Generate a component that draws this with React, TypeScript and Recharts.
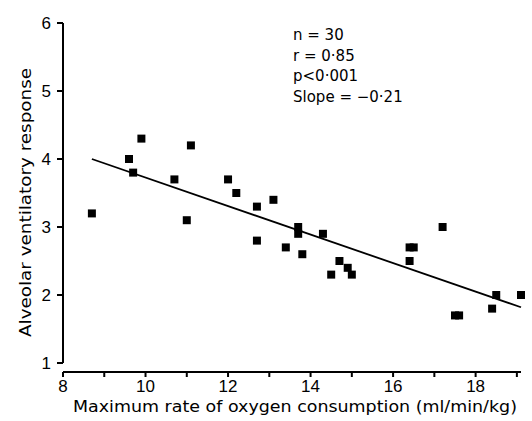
import React from 'react';
import { ScatterChart, Scatter, XAxis, YAxis, ZAxis, ReferenceLine } from 'recharts';

// Maximum rate of oxygen consumption (ml/min/kg)
const oxygenConsumption = [
  8.7, 9.6, 9.7, 9.9, 10.7, 11.0, 11.1, 12.0, 12.2, 12.7,
  12.7, 13.1, 13.4, 13.7, 13.7, 13.8, 14.3, 14.5, 14.7, 14.9,
  15.0, 16.4, 16.5, 16.4, 17.2, 17.5, 17.6, 18.4, 18.5, 19.1,
];
// Alveolar ventilatory response
const ventilatoryResponse = [
  3.2, 4.0, 3.8, 4.3, 3.7, 3.1, 4.2, 3.7, 3.5, 3.3,
  2.8, 3.4, 2.7, 3.0, 2.9, 2.6, 2.9, 2.3, 2.5, 2.4,
  2.3, 2.7, 2.7, 2.5, 3.0, 1.7, 1.7, 1.8, 2.0, 2.0,
];
// Regression line end points
const fitX = [8.7, 19.1];
const fitY = [4.0, 1.82];

const xTicks = [8, 9, 10, 11, 12, 13, 14, 15, 16, 17, 18, 19];
const yTicks = [1, 2, 3, 4, 5, 6];
const stats = ['n = 30', 'r = 0·85', 'p<0·001', 'Slope = −0·21'];
const xTitle = 'Maximum rate of oxygen consumption (ml/min/kg)';
const yTitle = 'Alveolar ventilatory response';

const points = oxygenConsumption.map((x, i) => ({ x, y: ventilatoryResponse[i] }));

const W = 532;
const H = 421;
const tickFont = { fill: '#000', fontSize: 17, fontFamily: '"Liberation Sans", Arial, sans-serif' };
const titleFont = '"DejaVu Sans", sans-serif';

export default function App() {
  return (
    <div style={{ position: 'absolute', left: 0, top: 0, width: W, height: H, background: '#fff' }}>
      <ScatterChart width={W} height={H} margin={{ top: 23, right: 11, bottom: 0, left: 0 }}>
        <XAxis
          type="number"
          dataKey="x"
          domain={[8, 19]}
          ticks={xTicks}
          interval={0}
          height={49}
          tickFormatter={(v: number) => (v % 2 === 0 ? String(v) : '')}
          axisLine={{ stroke: '#000', strokeWidth: 2 }}
          tickLine={{ stroke: '#000', strokeWidth: 2 }}
          tickSize={5}
          tickMargin={3}
          tick={tickFont}
        />
        <YAxis
          type="number"
          dataKey="y"
          domain={[0.868, 6]}
          ticks={yTicks}
          interval={0}
          width={63}
          axisLine={false}
          tickLine={{ stroke: '#000', strokeWidth: 2 }}
          tickSize={6}
          tickMargin={6}
          tick={tickFont}
        />
        <ZAxis range={[36, 36]} />
        <ReferenceLine
          segment={[{ x: xTicks[0], y: yTicks[0] }, { x: xTicks[0], y: yTicks[yTicks.length - 1] }]}
          stroke="#000"
          strokeWidth={2}
          ifOverflow="visible"
        />
        <ReferenceLine
          segment={[{ x: fitX[0], y: fitY[0] }, { x: fitX[1], y: fitY[1] }]}
          stroke="#000"
          strokeWidth={1.8}
          ifOverflow="visible"
        />
        <Scatter data={points} fill="#000" shape="square" isAnimationActive={false} />
      </ScatterChart>
      <svg
        width={W}
        height={H}
        style={{ position: 'absolute', left: 0, top: 0, pointerEvents: 'none' }}
      >
        {stats.map((s, i) => (
          <text
            key={s}
            x={293}
            y={40 + i * 20.7}
            fontSize={15}
            fontFamily={titleFont}
            fill="#000"
          >
            {s}
          </text>
        ))}
        <text
          x={295}
          y={412}
          textAnchor="middle"
          fontSize={15}
          fontFamily={titleFont}
          fill="#000"
          textLength={444}
          lengthAdjust="spacingAndGlyphs"
        >
          {xTitle}
        </text>
        <text
          x={31}
          y={202.5}
          textAnchor="middle"
          transform="rotate(-90 31 202.5)"
          fontSize={15}
          fontFamily={titleFont}
          fill="#000"
          textLength={269}
          lengthAdjust="spacingAndGlyphs"
        >
          {yTitle}
        </text>
      </svg>
    </div>
  );
}
